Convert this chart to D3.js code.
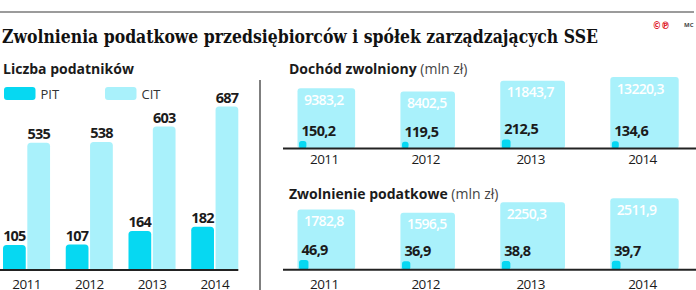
<!DOCTYPE html>
<html><head><meta charset="utf-8">
<script src="https://cdn.jsdelivr.net/npm/d3@7"></script>
<style>
html,body{margin:0;padding:0;background:#fff;}
svg{display:block;font-family:"Open Sans",sans-serif;}
</style></head>
<body><svg id="c" width="696" height="290"></svg>
<script>
// ---- data ----
const years = ["2011", "2012", "2013", "2014"];
const series = ["PIT", "CIT"];
const pitCount = [105, 107, 164, 182];
const citCount = [535, 538, 603, 687];
const incomeCIT = [9383.2, 8402.5, 11843.7, 13220.3];
const incomePIT = [150.2, 119.5, 212.5, 134.6];
const taxCIT = [1782.8, 1596.5, 2250.3, 2511.9];
const taxPIT = [46.9, 36.9, 38.8, 39.7];

const title = "Zwolnienia podatkowe przedsiębiorców i spółek zarządzających SSE";
const leftTitle = "Liczba podatników";
const panelTitles = [["Dochód zwolniony", " (mln zł)"], ["Zwolnienie podatkowe", " (mln zł)"]];

const PIT_COL = "#06d8f2", CIT_COL = "#a9f1fb", INK = "#1b1b1b";
const loc = d3.formatLocale({decimal: ",", thousands: "", grouping: [3], currency: ["", ""]});
const f1 = loc.format(".1f");

const svg = d3.select("#c");

// header line + title
svg.append("line").attr("x1", 0).attr("x2", 694).attr("y1", 12).attr("y2", 12)
  .attr("stroke", "#7a7a7a").attr("stroke-width", 1.5);
svg.append("text").attr("x", 2).attr("y", 43).text(title)
  .attr("font-family", "DejaVu Serif, serif").attr("font-weight", "bold").attr("font-size", 19)
  .attr("textLength", 596).attr("lengthAdjust", "spacingAndGlyphs").attr("fill", "#111");
// logo
svg.append("text").attr("x", 652.5).attr("y", 28.5).attr("font-family", "DejaVu Sans")
  .attr("font-size", 10.5).attr("font-weight", "bold").attr("fill", "#e0202a")
  .attr("textLength", 17.5).attr("lengthAdjust", "spacingAndGlyphs")
  .text("©℗");
svg.append("text").attr("x", 684).attr("y", 26.5).attr("font-size", 6).attr("font-weight", "bold")
  .attr("fill", "#444").text("MC");

// divider
svg.append("line").attr("x1", 260).attr("x2", 260).attr("y1", 80).attr("y2", 290)
  .attr("stroke", "#555").attr("stroke-width", 1.5);

// ---- left grouped bar chart ----
svg.append("text").attr("x", 3).attr("y", 73.5).text(leftTitle)
  .attr("font-weight", "bold").attr("font-size", 14).attr("fill", INK);

const legend = svg.append("g");
const legX = d3.scalePoint().domain(series).range([4, 105]);
series.forEach((s, i) => {
  legend.append("rect").attr("x", legX(s)).attr("y", 87).attr("width", 31.5).attr("height", 13)
    .attr("rx", 3).attr("fill", i === 0 ? PIT_COL : CIT_COL);
  legend.append("text").attr("x", legX(s) + 36.5).attr("y", 98.5).attr("font-size", 13)
    .attr("fill", "#333").text(s);
});

const baseL = 270;
const x0 = d3.scaleBand().domain(years).range([3, 238.3]).paddingInner(0.25).paddingOuter(0);
const x1 = d3.scaleBand().domain(series).range([0, x0.bandwidth()]).paddingInner(0.065);
const yL = d3.scaleLinear().domain([0, 700]).range([baseL, baseL - 166.6]);

function topRounded(x, y, w, h, r) {
  r = Math.min(r, h, w / 2);
  return `M${x},${y + h}V${y + r}Q${x},${y} ${x + r},${y}H${x + w - r}Q${x + w},${y} ${x + w},${y + r}V${y + h}Z`;
}
const leftData = years.map((yr, i) => ({yr, vals: [{s: "PIT", v: pitCount[i]}, {s: "CIT", v: citCount[i]}]}));
const grp = svg.append("g").selectAll("g").data(leftData).join("g")
  .attr("transform", d => `translate(${x0(d.yr)},0)`);
grp.selectAll("path").data(d => d.vals).join("path")
  .attr("d", d => topRounded(x1(d.s), yL(d.v), x1.bandwidth(), baseL - yL(d.v), 3.5))
  .attr("fill", d => d.s === "PIT" ? PIT_COL : CIT_COL);
grp.selectAll("text").data(d => d.vals).join("text")
  .attr("x", d => x1(d.s) + x1.bandwidth() / 2).attr("y", d => yL(d.v) - 3.8)
  .attr("text-anchor", "middle").attr("font-weight", "bold").attr("font-size", 14.5)
  .attr("letter-spacing", -0.8).attr("fill", INK).text(d => d.v);
svg.append("line").attr("x1", 0).attr("x2", 238.3).attr("y1", baseL).attr("y2", baseL)
  .attr("stroke", "#222").attr("stroke-width", 2);
const xAxisL = d3.axisBottom(x0).tickSize(0).tickPadding(0);
const axL = svg.append("g").attr("transform", `translate(0,${baseL})`).call(xAxisL);
axL.select(".domain").remove();
axL.selectAll("text").attr("dy", 0).attr("y", 18.5).attr("font-size", 13.5).attr("font-family", "Open Sans")
  .attr("letter-spacing", -0.6).attr("fill", INK);

// ---- right area-proportional square panels ----
function panel(big, small, base, titleY, titleParts, yearY) {
  const wS = d3.scaleSqrt().domain([0, d3.max(big)]).range([0, 68.4]);
  const hRatio = 1.045;
  const gap = 45.3;
  const g = svg.append("g");
  const t = g.append("text").attr("x", 289).attr("y", titleY).attr("font-size", 14).attr("fill", INK);
  t.append("tspan").attr("font-weight", "bold").text(titleParts[0]);
  t.append("tspan").attr("font-weight", "normal").attr("fill", "#444").text(titleParts[1]);
  // positions: squares laid out one after another with a fixed gap
  let cursor = 297.5;
  const items = years.map((yr, i) => {
    const w = wS(big[i]), h = w * hRatio;
    const sw = wS(small[i]), sh = sw * hRatio;
    const it = {yr, big: big[i], small: small[i], x: cursor, w, h, sw, sh};
    cursor += w + gap;
    return it;
  });
  g.selectAll("rect.big").data(items).join("rect").attr("class", "big")
    .attr("x", d => d.x).attr("y", d => base - d.h).attr("width", d => d.w).attr("height", d => d.h)
    .attr("rx", 3).attr("fill", CIT_COL);
  g.selectAll("rect.small").data(items).join("rect").attr("class", "small")
    .attr("x", d => d.x + 1.6).attr("y", d => base - d.sh).attr("width", d => d.sw).attr("height", d => d.sh)
    .attr("rx", 2.5).attr("fill", PIT_COL);
  g.selectAll("text.bigv").data(items).join("text").attr("class", "bigv")
    .attr("x", d => d.x + 6.5).attr("y", d => base - d.h + 16.5)
    .attr("font-size", 14).attr("font-weight", 600).attr("letter-spacing", -0.7)
    .attr("fill", "#fff").text(d => f1(d.big));
  g.selectAll("text.smallv").data(items).join("text").attr("class", "smallv")
    .attr("x", d => d.x + 4).attr("y", d => base - d.sh - 5)
    .attr("font-size", 14.5).attr("font-weight", "bold").attr("letter-spacing", -0.7)
    .attr("fill", INK).text(d => f1(d.small));
  g.append("line").attr("x1", 283).attr("x2", 696).attr("y1", base).attr("y2", base)
    .attr("stroke", "#222").attr("stroke-width", 2);
  g.selectAll("text.yr").data(items).join("text").attr("class", "yr")
    .attr("x", d => d.x + d.w / 2 - 2).attr("y", yearY).attr("text-anchor", "middle")
    .attr("font-size", 13.5).attr("letter-spacing", -0.6).attr("fill", INK).text(d => d.yr);
}
panel(incomeCIT, incomePIT, 148.5, 73.5, panelTitles[0], 164);
panel(taxCIT, taxPIT, 269.8, 198.5, panelTitles[1], 288.5);
</script></body></html>
